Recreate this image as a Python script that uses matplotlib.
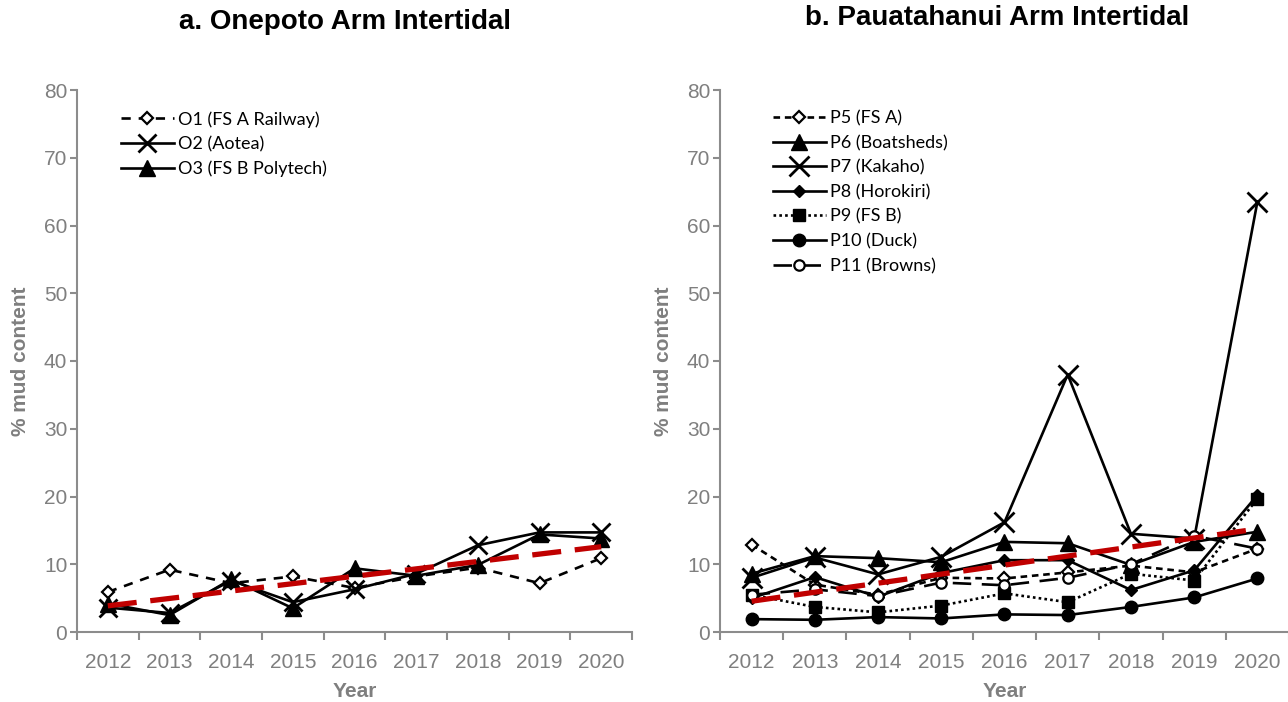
import matplotlib
matplotlib.use("Agg")
import matplotlib.pyplot as plt
from matplotlib.ticker import FixedLocator
import numpy as np

# data
years = [2012, 2013, 2014, 2015, 2016, 2017, 2018, 2019, 2020]

o1 = [5.9, 9.2, 7.2, 8.2, 6.5, 8.2, 9.5, 7.2, 10.9]
o2 = [3.6, 2.8, 7.6, 4.4, 6.3, 8.6, 12.8, 14.7, 14.7]
o3 = [4.2, 2.5, 7.8, 3.5, 9.4, 8.3, 9.9, 14.4, 13.8]

p5 = [12.9, 7.0, 5.5, 8.0, 7.9, 8.8, 9.8, 8.8, 12.3]
p6 = [8.6, 11.2, 10.9, 10.3, 13.3, 13.1, 9.9, 13.3, 14.8]
p7 = [8.0, 11.0, 8.5, 11.1, 16.2, 38.0, 14.5, 13.8, 63.5]
p8 = [5.0, 8.1, 5.2, 8.7, 10.6, 10.6, 6.2, 9.1, 20.2]
p9 = [5.5, 3.7, 2.9, 3.9, 5.7, 4.4, 8.6, 7.6, 19.7]
p10 = [1.9, 1.8, 2.2, 2.0, 2.6, 2.5, 3.7, 5.1, 7.9]
p11 = [5.5, 6.3, 5.3, 7.3, 6.9, 8.0, 10.0, 14.2, 12.3]

labels_a = ["O1 (FS A Railway)", "O2 (Aotea)", "O3 (FS B Polytech)"]
labels_b = ["P5 (FS A)", "P6 (Boatsheds)", "P7 (Kakaho)", "P8 (Horokiri)",
            "P9 (FS B)", "P10 (Duck)", "P11 (Browns)"]

grey = "#8c8c8c"
txtgrey = "#7f7f7f"
plt.rcParams["font.family"] = ["Liberation Sans", "DejaVu Sans"]

W, H = 1288, 702
fig = plt.figure(figsize=(W / 100, H / 100), dpi=100)
ax1 = fig.add_axes([77 / W, 1 - 632 / H, (632 - 77) / W, (632 - 90) / H])
ax2 = fig.add_axes([720 / W, 1 - 632 / H, (1289 - 720) / W, (632 - 90) / H])

lw = 1.9
# left panel
ax1.plot(years, o1, color="k", lw=lw, ls=(0, (3.5, 3)), marker="D", ms=6.5,
         mfc="white", mec="k", mew=1.6, label=labels_a[0])
ax1.plot(years, o2, color="k", lw=lw, ls="-", marker="x", ms=13, mew=2,
         label=labels_a[1])
ax1.plot(years, o3, color="k", lw=lw, ls="-", marker="^", ms=11,
         label=labels_a[2])

# right panel
ax2.plot(years, p5, color="k", lw=lw, ls=(0, (2.5, 1.8)), marker="D", ms=6.5,
         mfc="white", mec="k", mew=1.6, label=labels_b[0])
ax2.plot(years, p6, color="k", lw=lw, ls="-", marker="^", ms=11,
         label=labels_b[1])
ax2.plot(years, p7, color="k", lw=lw, ls="-", marker="x", ms=14, mew=2,
         label=labels_b[2])
ax2.plot(years, p8, color="k", lw=lw, ls="-", marker="D", ms=6.5,
         label=labels_b[3])
ax2.plot(years, p9, color="k", lw=lw, ls=(0, (1, 1.2)), marker="s", ms=9,
         label=labels_b[4])
ax2.plot(years, p10, color="k", lw=lw, ls="-", marker="o", ms=9,
         label=labels_b[5])
ax2.plot(years, p11, color="k", lw=lw, ls=(0, (7, 4)), marker="o", ms=7.5,
         mfc="white", mec="k", mew=1.6, label=labels_b[6])

# linear trend over all sites of each arm
for ax, series in ((ax1, [o1, o2, o3]), (ax2, [p5, p6, p7, p8, p9, p10, p11])):
    xs = np.tile(years, len(series))
    ys = np.concatenate(series)
    k, b = np.polyfit(xs, ys, 1)
    ends = np.array([years[0], years[-1]])
    ax.plot(ends, k * ends + b, color="#c00000", lw=3.8, ls=(0, (5.5, 2.6)),
            zorder=5)

for ax in (ax1, ax2):
    ax.set_xlim(2011.5, 2020.5)
    ax.set_ylim(0, 80)
    ax.set_yticks(range(0, 81, 10))
    ax.set_xticks(years)
    ax.xaxis.set_minor_locator(FixedLocator(np.arange(2011.5, 2021, 1)))
    ax.tick_params(axis="x", which="major", length=0, pad=15,
                   labelsize=15, labelcolor=txtgrey)
    ax.tick_params(axis="x", which="minor", length=6, width=1.5, color=grey)
    ax.tick_params(axis="y", length=5, width=1.5, color=grey,
                   labelsize=15, labelcolor=txtgrey, pad=2)
    for s in ("top", "right"):
        ax.spines[s].set_visible(False)
    for s in ("left", "bottom"):
        ax.spines[s].set_color(grey)
        ax.spines[s].set_linewidth(1.5)
    ax.set_xlabel("Year", fontsize=15, fontweight="bold", color=txtgrey,
                  labelpad=7)
    ax.set_ylabel("% mud content", fontsize=15, fontweight="bold",
                  color=txtgrey, labelpad=10)

legkw = dict(frameon=False, prop={"family": "Lato", "size": 13},
             handlelength=2.9, handletextpad=0.25, borderaxespad=0,
             labelspacing=0.47)
ax1.legend(loc="upper left", bbox_to_anchor=(37 / 555, 1 - 14 / 542), **legkw)
ax2.legend(loc="upper left", bbox_to_anchor=(46 / 569, 1 - 13 / 542), **legkw)

fig.text(345 / W, 1 - 22 / H, "a. Onepoto Arm Intertidal", ha="center",
         va="center", fontsize=20, fontweight="bold")
fig.text(997 / W, 1 - 18 / H, "b. Pauatahanui Arm Intertidal", ha="center",
         va="center", fontsize=20, fontweight="bold")

fig.savefig("out.png", dpi=100)
